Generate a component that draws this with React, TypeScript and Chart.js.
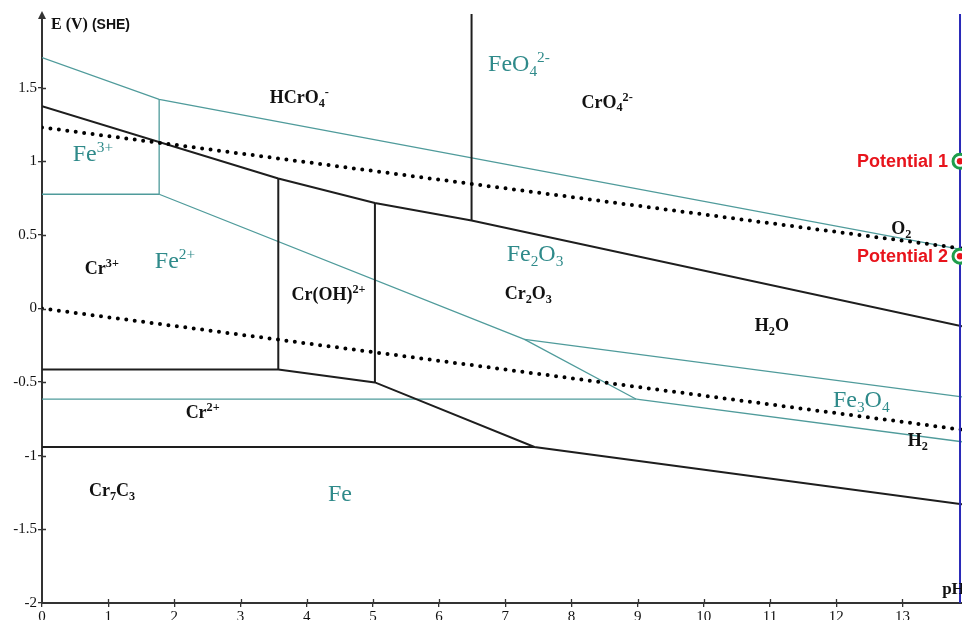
import React, { useEffect, useRef } from 'react';
import { Chart, registerables } from 'chart.js';

Chart.register(...registerables);

// ---------- axis ticks ----------
const pHTicks = [0, 1, 2, 3, 4, 5, 6, 7, 8, 9, 10, 11, 12, 13];
const eTicks = [-2, -1.5, -1, -0.5, 0, 0.5, 1, 1.5];
const pHMin = 0;
const pHMax = 13.9;
const eMin = -2;
const eMax = 2;

// ---------- Cr boundaries (black solid) ----------
const crUpperPH = [0, 3.57, 5.03, 6.49, 13.9];
const crUpperE = [1.373, 0.883, 0.717, 0.598, -0.12];
const crWall1PH = [3.57, 3.57];
const crWall1E = [0.883, -0.414];
const crWall2PH = [5.03, 5.03];
const crWall2E = [0.717, -0.502];
const crWall3PH = [6.49, 6.49];
const crWall3E = [0.598, 2.0];
const crLowerPH = [0, 3.57, 5.03, 7.44, 13.9];
const crLowerE = [-0.414, -0.414, -0.502, -0.94, -1.33];
const crBottomPH = [0, 7.44];
const crBottomE = [-0.94, -0.94];

// ---------- Fe boundaries (teal) ----------
const feTopPH = [0, 1.77, 13.9];
const feTopE = [1.704, 1.42, 0.4];
const feWallPH = [1.77, 1.77];
const feWallE = [1.42, 0.776];
const fe3PlusPH = [0, 1.77];
const fe3PlusE = [0.776, 0.776];
const feDiagPH = [1.77, 7.29, 8.98];
const feDiagE = [0.776, -0.21, -0.616];
const fe2PlusPH = [0, 8.98];
const fe2PlusE = [-0.616, -0.616];
const feOxPH = [7.29, 13.9];
const feOxE = [-0.21, -0.6];
const feMagPH = [8.98, 13.9];
const feMagE = [-0.616, -0.905];

// ---------- water stability (dotted) ----------
const o2PH = [0, 13.9];
const o2E = [1.23, 0.408];
const h2PH = [0, 13.9];
const h2E = [0, -0.823];

// ---------- measured pH & potentials ----------
const measuredPH = 13.87;
const blueLineE = [-2, 2];
const potentialNames = ['Potential 1', 'Potential 2'];
const potentialE = [1.0, 0.355];

// ---------- region labels ----------
const tealLabels = ['FeO_{4}^{2-}', 'Fe^{3+}', 'Fe^{2+}', 'Fe_{2}O_{3}', 'Fe_{3}O_{4}', 'Fe'];
const tealLabelPH = [6.74, 0.465, 1.704, 7.02, 11.95, 4.32];
const tealLabelE = [1.665, 1.054, 0.328, 0.373, -0.618, -1.256];

const crLabels = ['HCrO_{4}^{-}', 'CrO_{4}^{2-}', 'Cr^{3+}', 'Cr(OH)^{2+}', 'Cr_{2}O_{3}', 'H_{2}O', 'O_{2}', 'H_{2}', 'Cr^{2+}', 'Cr_{7}C_{3}'];
const crLabelPH = [3.44, 8.15, 0.647, 3.77, 6.99, 10.77, 12.83, 13.08, 2.17, 0.71];
const crLabelE = [1.434, 1.403, 0.272, 0.097, 0.102, -0.113, 0.543, -0.894, -0.706, -1.234];

const BLACK = '#1e1e1e';
const TEAL_LINE = '#4f9b9b';
const TEAL_TEXT = '#2f8a8a';
const AXIS = '#333333';

function pts(xs: number[], ys: number[]) {
  return xs.map((x, i) => ({ x, y: ys[i] }));
}

function solid(xs: number[], ys: number[], color: string, width: number) {
  return {
    data: pts(xs, ys),
    showLine: true,
    borderColor: color,
    borderWidth: width,
    pointRadius: 0,
    fill: false,
    tension: 0,
  };
}

function dotted(xs: number[], ys: number[]) {
  return {
    data: pts(xs, ys),
    showLine: true,
    borderColor: '#000',
    borderWidth: 4,
    borderDash: [0, 8.5],
    borderCapStyle: 'round',
    pointRadius: 0,
    fill: false,
    tension: 0,
  };
}

type Seg = { t: string; k: number };
function parseRich(s: string): Seg[] {
  const out: Seg[] = [];
  const re = /([_^])\{([^}]*)\}|([^_^]+)/g;
  let m: RegExpExecArray | null;
  while ((m = re.exec(s))) {
    if (m[3]) out.push({ t: m[3], k: 0 });
    else out.push({ t: m[2], k: m[1] === '^' ? 1 : -1 });
  }
  return out;
}

function drawRich(
  ctx: CanvasRenderingContext2D,
  x: number,
  yMid: number,
  text: string,
  size: number,
  family: string,
  weight: string,
  color: string,
  scriptScale: number
) {
  const segs = parseRich(text);
  const base = yMid + size * 0.33;
  let cx = x;
  ctx.fillStyle = color;
  ctx.textAlign = 'left';
  ctx.textBaseline = 'alphabetic';
  for (const s of segs) {
    const fs = s.k === 0 ? size : size * scriptScale;
    ctx.font = `${weight} ${fs}px ${family}`;
    const dy = s.k === 1 ? -size * 0.4 : s.k === -1 ? size * 0.2 : 0;
    ctx.fillText(s.t, cx, base + dy);
    cx += ctx.measureText(s.t).width;
  }
}

const overlayPlugin = {
  id: 'overlay',
  afterDraw(chart: any) {
    const ctx: CanvasRenderingContext2D = chart.ctx;
    const xs = chart.scales.x;
    const ys = chart.scales.y;
    const { left, bottom } = chart.chartArea;
    ctx.save();
    // inner halves of the cross ticks
    ctx.strokeStyle = AXIS;
    ctx.lineWidth = 1.3;
    ctx.beginPath();
    pHTicks.forEach((v) => {
      if (v === 0) return;
      const px = Math.round(xs.getPixelForValue(v)) + 0.5;
      ctx.moveTo(px, bottom);
      ctx.lineTo(px, bottom - 4);
    });
    eTicks.forEach((v) => {
      if (v === eMin) return;
      const py = Math.round(ys.getPixelForValue(v)) + 0.5;
      ctx.moveTo(left, py);
      ctx.lineTo(left + 4, py);
    });
    ctx.stroke();
    // arrow on E axis
    const topY = ys.getPixelForValue(eMax);
    ctx.fillStyle = AXIS;
    ctx.beginPath();
    ctx.moveTo(left, topY - 3);
    ctx.lineTo(left - 4, topY + 5);
    ctx.lineTo(left + 4, topY + 5);
    ctx.closePath();
    ctx.fill();

    // axis titles
    ctx.fillStyle = '#111';
    ctx.textBaseline = 'middle';
    ctx.textAlign = 'left';
    ctx.font = 'bold 16px "Liberation Serif"';
    ctx.fillText('E (V)', left + 9, topY + 11);
    const w = ctx.measureText('E (V) ').width;
    ctx.font = 'bold 14px "Liberation Sans"';
    ctx.fillText('(SHE)', left + 9 + w, topY + 11);
    ctx.font = 'bold 17px "Liberation Serif"';
    ctx.fillText('pH', xs.getPixelForValue(13.6), bottom - 13);

    // region labels
    tealLabels.forEach((t, i) => {
      drawRich(ctx, xs.getPixelForValue(tealLabelPH[i]), ys.getPixelForValue(tealLabelE[i]), t, 24, '"Liberation Serif"', 'normal', TEAL_TEXT, 0.64);
    });
    crLabels.forEach((t, i) => {
      drawRich(ctx, xs.getPixelForValue(crLabelPH[i]), ys.getPixelForValue(crLabelE[i]), t, 18, '"Liberation Serif"', 'bold', '#111', 0.68);
    });

    // potential labels
    ctx.font = 'bold 18px "Liberation Sans"';
    ctx.fillStyle = '#e8141c';
    ctx.textAlign = 'right';
    ctx.textBaseline = 'middle';
    potentialNames.forEach((n, i) => {
      ctx.fillText(n, xs.getPixelForValue(measuredPH) - 12, ys.getPixelForValue(potentialE[i]) + 1);
    });
    ctx.restore();
  },
};

export default function App() {
  const ref = useRef<HTMLCanvasElement | null>(null);
  useEffect(() => {
    if (!ref.current) return;
    const chart = new Chart(ref.current, {
      type: 'scatter',
      data: {
        datasets: [
          {
            data: pts(potentialE.map(() => measuredPH), potentialE),
            showLine: false,
            pointRadius: 3.2,
            pointBackgroundColor: '#e8141c',
            pointBorderWidth: 0,
            clip: false,
          } as any,
          {
            data: pts(potentialE.map(() => measuredPH), potentialE),
            showLine: false,
            pointRadius: 7,
            pointBackgroundColor: '#ffffff',
            pointBorderColor: '#1e9e4c',
            pointBorderWidth: 3,
            clip: false,
          } as any,
          solid([measuredPH, measuredPH], blueLineE, '#2a2ab8', 2),
          dotted(o2PH, o2E),
          dotted(h2PH, h2E),
          solid(crUpperPH, crUpperE, BLACK, 2),
          solid(crWall1PH, crWall1E, BLACK, 2),
          solid(crWall2PH, crWall2E, BLACK, 2),
          solid(crWall3PH, crWall3E, BLACK, 2),
          solid(crLowerPH, crLowerE, BLACK, 2),
          solid(crBottomPH, crBottomE, BLACK, 2),
          solid(feTopPH, feTopE, TEAL_LINE, 1.3),
          solid(feWallPH, feWallE, TEAL_LINE, 1.3),
          solid(fe3PlusPH, fe3PlusE, TEAL_LINE, 1.3),
          solid(feDiagPH, feDiagE, TEAL_LINE, 1.3),
          solid(fe2PlusPH, fe2PlusE, TEAL_LINE, 1.3),
          solid(feOxPH, feOxE, TEAL_LINE, 1.3),
          solid(feMagPH, feMagE, TEAL_LINE, 1.3),
        ] as any,
      },
      options: {
        animation: false,
        responsive: false,
        devicePixelRatio: 1,
        events: [],
        layout: { autoPadding: false, padding: { top: 14, right: 0, left: 0, bottom: 0 } },
        plugins: { legend: { display: false }, tooltip: { enabled: false } },
        scales: {
          x: {
            type: 'linear',
            min: pHMin,
            max: pHMax,
            afterBuildTicks: (s: any) => {
              s.ticks = pHTicks.map((v) => ({ value: v }));
            },
            afterFit: (s: any) => {
              s.height = 17;
              s.paddingRight = 0;
              s.paddingLeft = 0;
            },
            grid: { display: true, drawOnChartArea: false, drawTicks: true, tickLength: 4, color: AXIS, lineWidth: 1.3 },
            border: { display: true, color: AXIS, width: 2 },
            ticks: {
              color: '#111',
              font: { family: 'Liberation Serif', size: 15 },
              padding: 1,
              maxRotation: 0,
              autoSkip: false,
              callback: (v: any) => String(v),
            },
          },
          y: {
            type: 'linear',
            min: eMin,
            max: eMax,
            afterBuildTicks: (s: any) => {
              s.ticks = eTicks.map((v) => ({ value: v }));
            },
            afterFit: (s: any) => {
              s.width = 42;
              s.paddingTop = 0;
              s.paddingBottom = 0;
            },
            grid: { display: true, drawOnChartArea: false, drawTicks: true, tickLength: 4, color: AXIS, lineWidth: 1.3 },
            border: { display: true, color: AXIS, width: 2 },
            ticks: {
              color: '#111',
              font: { family: 'Liberation Serif', size: 15 },
              padding: 1,
              autoSkip: false,
              callback: (v: any) => String(v),
            },
          },
        },
      } as any,
      plugins: [overlayPlugin],
    });
    return () => chart.destroy();
  }, []);
  return (
    <div style={{ position: 'absolute', left: 0, top: 0, width: 962, height: 620, background: '#fff' }}>
      <canvas ref={ref} width={962} height={620} style={{ display: 'block' }} />
    </div>
  );
}
